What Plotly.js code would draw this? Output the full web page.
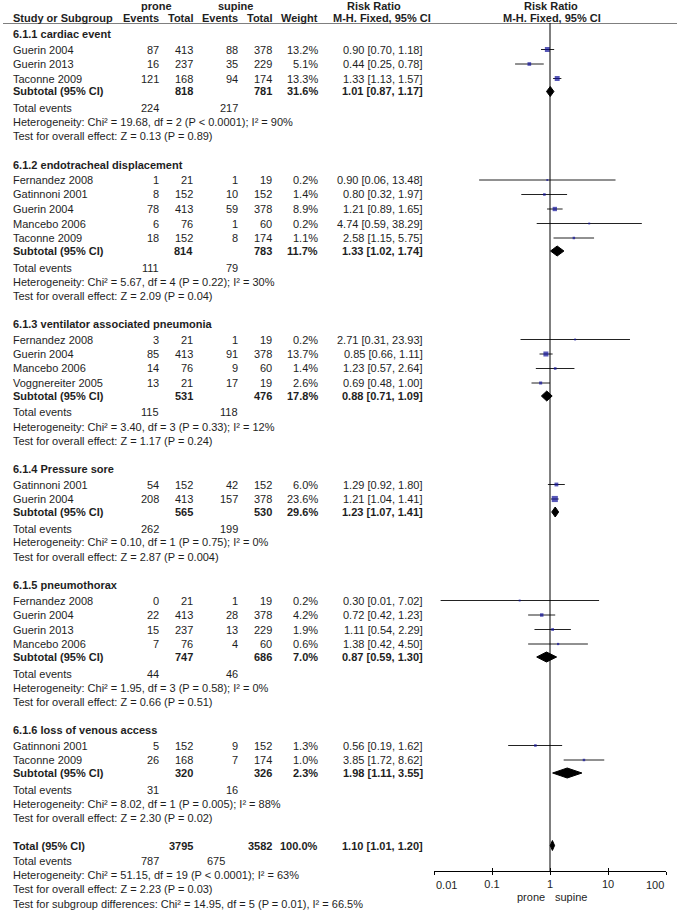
<!DOCTYPE html>
<html><head><meta charset="utf-8">
<script src="https://cdn.plot.ly/plotly-3.0.1.min.js"></script>
<style>html,body{margin:0;padding:0;background:#fff}</style>
</head><body><div id="chart" style="width:677px;height:911px"></div>
<script>
// ---------------- DATA ----------------
const subgroupTitles = ['6.1.1 cardiac event', '6.1.2 endotracheal displacement', '6.1.3 ventilator associated pneumonia',
  '6.1.4 Pressure sore', '6.1.5 pneumothorax', '6.1.6 loss of venous access'];
const studyGroup   = [0,0,0, 1,1,1,1,1, 2,2,2,2, 3,3, 4,4,4,4, 5,5];
const studyNames   = ['Guerin 2004','Guerin 2013','Taconne 2009',
  'Fernandez 2008','Gatinnoni 2001','Guerin 2004','Mancebo 2006','Taconne 2009',
  'Fernandez 2008','Guerin 2004','Mancebo 2006','Voggnereiter 2005',
  'Gatinnoni 2001','Guerin 2004',
  'Fernandez 2008','Guerin 2004','Guerin 2013','Mancebo 2006',
  'Gatinnoni 2001','Taconne 2009'];
const proneEvents  = [87,16,121, 1,8,78,6,18, 3,85,14,13, 54,208, 0,22,15,7, 5,26];
const proneTotal   = [413,237,168, 21,152,413,76,152, 21,413,76,21, 152,413, 21,413,237,76, 152,168];
const supineEvents = [88,35,94, 1,10,59,1,8, 1,91,9,17, 42,157, 1,28,13,4, 9,7];
const supineTotal  = [378,229,174, 19,152,378,60,174, 19,378,60,19, 152,378, 19,378,229,60, 152,174];
const studyWeight  = [13.2,5.1,13.3, 0.2,1.4,8.9,0.2,1.1, 0.2,13.7,1.4,2.6, 6.0,23.6, 0.2,4.2,1.9,0.6, 1.3,1.0];
const studyRR      = [0.90,0.44,1.33, 0.90,0.80,1.21,4.74,2.58, 2.71,0.85,1.23,0.69, 1.29,1.21, 0.30,0.72,1.11,1.38, 0.56,3.85];
const studyLow     = [0.70,0.25,1.13, 0.06,0.32,0.89,0.59,1.15, 0.31,0.66,0.57,0.48, 0.92,1.04, 0.013,0.42,0.54,0.42, 0.19,1.72];
const studyHigh    = [1.18,0.78,1.57, 13.48,1.97,1.65,38.29,5.75, 23.93,1.11,2.64,1.00, 1.80,1.41, 7.02,1.23,2.29,4.50, 1.62,8.62];

const subProneTotal   = [818,814,531,565,747,320];
const subSupineTotal  = [781,783,476,530,686,326];
const subWeight       = [31.6,11.7,17.8,29.6,7.0,2.3];
const subRR           = [1.01,1.33,0.88,1.23,0.87,1.98];
const subLow          = [0.87,1.02,0.71,1.07,0.59,1.11];
const subHigh         = [1.17,1.74,1.09,1.41,1.30,3.55];
const subProneEvents  = [224,111,115,262,44,31];
const subSupineEvents = [217,79,118,199,46,16];
const subHeterogeneity = [
  'Heterogeneity: Chi² = 19.68, df = 2 (P < 0.0001); I² = 90%',
  'Heterogeneity: Chi² = 5.67, df = 4 (P = 0.22); I² = 30%',
  'Heterogeneity: Chi² = 3.40, df = 3 (P = 0.33); I² = 12%',
  'Heterogeneity: Chi² = 0.10, df = 1 (P = 0.75); I² = 0%',
  'Heterogeneity: Chi² = 1.95, df = 3 (P = 0.58); I² = 0%',
  'Heterogeneity: Chi² = 8.02, df = 1 (P = 0.005); I² = 88%'];
const subOverallTest = [
  'Test for overall effect: Z = 0.13 (P = 0.89)',
  'Test for overall effect: Z = 2.09 (P = 0.04)',
  'Test for overall effect: Z = 1.17 (P = 0.24)',
  'Test for overall effect: Z = 2.87 (P = 0.004)',
  'Test for overall effect: Z = 0.66 (P = 0.51)',
  'Test for overall effect: Z = 2.30 (P = 0.02)'];

const totalValues  = [3795, 3582, 100.0];      // prone total, supine total, weight
const totalEffect  = [1.10, 1.01, 1.20];       // RR, low, high
const totalEvents  = [787, 675];
const totalTexts   = ['Heterogeneity: Chi² = 51.15, df = 19 (P < 0.0001); I² = 63%',
  'Test for overall effect: Z = 2.23 (P = 0.03)',
  'Test for subgroup differences: Chi² = 14.95, df = 5 (P = 0.01), I² = 66.5%'];
const axisTicks      = [0.01, 0.1, 1, 10, 100];
const axisTickLabels = ['0.01', '0.1', '1', '10', '100'];

// ---------------- LAYOUT HELPERS ----------------
const W = 677, H = 911;
const HEADER_Y = 23, AXIS_Y = 871, AXIS_L = 434, AXIS_R = 666;
const FONT = 'Liberation Sans, Arial, sans-serif';
const TXT = '#1e1e1e';
const COL = {name: 11, pe: 161, pt: 195, se: 240, st: 274, w: 320, rr: 425};
const annotations = [];
function txt(x, y, text, anchor, opts) {
  opts = opts || {};
  annotations.push({
    xref: 'paper', yref: 'paper', x: x / W, y: (H - y) / H,
    xanchor: anchor, yanchor: 'middle', showarrow: false,
    text: opts.bold ? '<b>' + text + '</b>' : text,
    font: {family: FONT, size: opts.size || 11, color: opts.color || TXT}
  });
}
const fmtRR = (r, l, h) => r.toFixed(2) + ' [' + l.toFixed(2) + ', ' + h.toFixed(2) + ']';

// header
txt(156, 6, 'prone', 'center', {bold: true});
txt(235, 6, 'supine', 'center', {bold: true});
txt(374, 6, 'Risk Ratio', 'center', {bold: true});
txt(551, 6, 'Risk Ratio', 'center', {bold: true});
txt(COL.name, 18, 'Study or Subgroup', 'left', {bold: true});
txt(COL.pe, 18, 'Events', 'right', {bold: true});
txt(COL.pt, 18, 'Total', 'right', {bold: true});
txt(COL.se, 18, 'Events', 'right', {bold: true});
txt(COL.st, 18, 'Total', 'right', {bold: true});
txt(COL.w, 18, 'Weight', 'right', {bold: true});
txt(382, 18, 'M-H. Fixed, 95% CI', 'center', {bold: true});
txt(552, 18, 'M-H. Fixed, 95% CI', 'center', {bold: true});

// rows
const ciX = [], ciY = [], sqX = [], sqY = [], sqS = [];
const diamonds = [];
let y = 34;
subgroupTitles.forEach((title, g) => {
  txt(COL.name, y, title, 'left', {bold: true});
  let sy = y + 15.5, lastY = y;
  studyGroup.forEach((gg, k) => {
    if (gg !== g) return;
    txt(COL.name, sy, studyNames[k], 'left');
    txt(COL.pe, sy, String(proneEvents[k]), 'right');
    txt(COL.pt, sy, String(proneTotal[k]), 'right');
    txt(COL.se, sy, String(supineEvents[k]), 'right');
    txt(COL.st, sy, String(supineTotal[k]), 'right');
    txt(COL.w, sy, studyWeight[k].toFixed(1) + '%', 'right');
    txt(COL.rr, sy, fmtRR(studyRR[k], studyLow[k], studyHigh[k]), 'right');
    ciX.push(studyLow[k], studyHigh[k], null); ciY.push(sy, sy, null);
    sqX.push(studyRR[k]); sqY.push(sy); sqS.push(1.5 + 0.95 * Math.sqrt(studyWeight[k]));
    lastY = sy; sy += 14.5;
  });
  const subY = lastY + 13;
  txt(COL.name, subY, 'Subtotal (95% CI)', 'left', {bold: true});
  txt(COL.pt, subY, String(subProneTotal[g]), 'right', {bold: true});
  txt(COL.st, subY, String(subSupineTotal[g]), 'right', {bold: true});
  txt(COL.w, subY, subWeight[g].toFixed(1) + '%', 'right', {bold: true});
  txt(COL.rr, subY, fmtRR(subRR[g], subLow[g], subHigh[g]), 'right', {bold: true});
  diamonds.push([subRR[g], subLow[g], subHigh[g], subY]);
  const teY = subY + 16.5;
  txt(COL.name, teY, 'Total events', 'left');
  txt(COL.pe, teY, String(subProneEvents[g]), 'right');
  txt(COL.se, teY, String(subSupineEvents[g]), 'right');
  txt(COL.name, teY + 14, subHeterogeneity[g], 'left');
  txt(COL.name, teY + 28, subOverallTest[g], 'left');
  y = teY + 28 + 28.5;
});
// overall
const totY = y - 0.5;
txt(COL.name, totY, 'Total (95% CI)', 'left', {bold: true});
txt(COL.pt, totY, String(totalValues[0]), 'right', {bold: true});
txt(COL.st, totY, String(totalValues[1]), 'right', {bold: true});
txt(COL.w, totY, totalValues[2].toFixed(1) + '%', 'right', {bold: true});
txt(COL.rr, totY, fmtRR(totalEffect[0], totalEffect[1], totalEffect[2]), 'right', {bold: true});
diamonds.push([totalEffect[0], totalEffect[1], totalEffect[2], totY]);
txt(COL.name, totY + 15, 'Total events', 'left');
txt(COL.pe, totY + 15, String(totalEvents[0]), 'right');
txt(227, totY + 15, String(totalEvents[1]), 'right');
txt(COL.name, totY + 29, totalTexts[0], 'left');
txt(COL.name, totY + 43.5, totalTexts[1], 'left');
txt(COL.name, totY + 58, totalTexts[2], 'left');

// axis footer labels
txt(531, 897, 'prone', 'center');
txt(571, 897, 'supine', 'center');

// end tick labels drawn inside the axis span, positioned on the log x scale
const lastTick = axisTicks.length - 1;
[[0, 'left'], [lastTick, 'right']].forEach(([i, anchor]) => {
  annotations.push({xref: 'x', yref: 'paper', x: Math.log10(axisTicks[i]), y: (H - 884.5) / H,
    xanchor: anchor, yanchor: 'middle', showarrow: false, text: axisTickLabels[i],
    font: {family: FONT, size: 11, color: TXT}});
});

// ---------------- TRACES ----------------
const traces = [];
traces.push({x: ciX, y: ciY, mode: 'lines', line: {color: '#222', width: 1}, hoverinfo: 'skip', showlegend: false});
traces.push({x: sqX, y: sqY, mode: 'markers', marker: {symbol: 'square', size: sqS, color: '#10109a', line: {width: 0}},
  hoverinfo: 'skip', showlegend: false});
const DH = 5;
diamonds.forEach(d => {
  traces.push({x: [d[1], d[0], d[2], d[0], d[1]], y: [d[3], d[3] - DH, d[3], d[3] + DH, d[3]],
    mode: 'lines', fill: 'toself', fillcolor: '#000', line: {color: '#000', width: 1},
    hoverinfo: 'skip', showlegend: false});
});
traces.push({x: [1], y: [AXIS_Y], xaxis: 'x2', mode: 'markers', marker: {opacity: 0}, hoverinfo: 'skip', showlegend: false});

const tickText = axisTickLabels.map((t, i) => (i === 0 || i === lastTick) ? '' : t);
const domainX = [AXIS_L / W, AXIS_R / W];
const layout = {
  width: W, height: H, margin: {l: 0, r: 0, t: 0, b: 0},
  paper_bgcolor: '#fff', plot_bgcolor: '#fff', showlegend: false,
  font: {family: FONT, size: 11, color: TXT},
  xaxis: {type: 'log', range: [-2, 2], domain: domainX, anchor: 'y', showgrid: false, zeroline: false,
    showline: true, linecolor: '#000', linewidth: 1, ticks: 'outside', ticklen: 3, tickcolor: '#000', tickwidth: 1,
    tickvals: axisTicks, ticktext: tickText,
    tickfont: {family: FONT, size: 11, color: TXT}, fixedrange: true},
  xaxis2: {type: 'log', range: [-2, 2], domain: domainX, anchor: 'y', overlaying: 'x', side: 'bottom',
    showgrid: false, zeroline: false, showline: false, ticks: 'inside', ticklen: 3, tickcolor: '#000', tickwidth: 1,
    tickvals: axisTicks, showticklabels: false, fixedrange: true},
  yaxis: {domain: [(H - AXIS_Y) / H, (H - HEADER_Y) / H], range: [AXIS_Y, HEADER_Y], visible: false, fixedrange: true},
  shapes: [
    {type: 'line', xref: 'paper', yref: 'y', x0: 3 / W, x1: 1, y0: HEADER_Y, y1: HEADER_Y, line: {color: '#000', width: 1}},
    {type: 'line', xref: 'x', yref: 'y', x0: 1, x1: 1, y0: AXIS_Y, y1: HEADER_Y, line: {color: '#000', width: 1}}
  ],
  annotations: annotations
};
Plotly.newPlot('chart', traces, layout, {displayModeBar: false, staticPlot: true});
</script></body></html>
